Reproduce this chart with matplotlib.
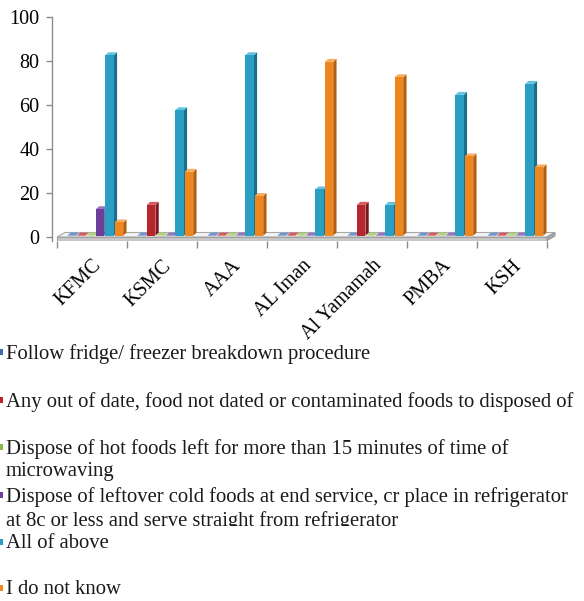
import numpy as np
import matplotlib
matplotlib.use("Agg")
import matplotlib.pyplot as plt
from matplotlib.patches import Polygon, Rectangle
from matplotlib.transforms import Bbox, TransformedBbox

# ---- data -------------------------------------------------------------
categories = ["KFMC", "KSMC", "AAA", "AL Iman", "Al Yamamah", "PMBA", "KSH"]

series_labels = [
    "Follow fridge/ freezer breakdown procedure",
    "Any out of date, food not dated or contaminated foods to disposed of",
    "Dispose of hot foods left for more than 15 minutes of time of\nmicrowaving",
    "Dispose of leftover cold foods at end service, cr place in refrigerator\n"
    "at 8c or less and serve straight from refrigerator",
    "All of above",
    "I do not know",
]

follow_breakdown = [0, 0, 0, 0, 0, 0, 0]
dispose_out_of_date = [0, 14, 0, 0, 14, 0, 0]
dispose_hot_foods = [0, 0, 0, 0, 0, 0, 0]
dispose_cold_leftovers = [12, 0, 0, 0, 0, 0, 0]
all_of_above = [82, 57, 82, 21, 14, 64, 69]
do_not_know = [6, 29, 18, 79, 72, 36, 31]

y_ticks = [0, 20, 40, 60, 80, 100]

values = [follow_breakdown, dispose_out_of_date, dispose_hot_foods,
          dispose_cold_leftovers, all_of_above, do_not_know]

# face colours: (front, side, top)
palette = [
    ("#3A6DB5", "#244A80", "#6E95CF"),
    ("#B8262D", "#7C171C", "#D55A5F"),
    ("#8CBC45", "#5E8328", "#B0D57A"),
    ("#6D3F9D", "#47266B", "#9872C2"),
    ("#2A9EC3", "#1B6F8A", "#62C3E0"),
    ("#F0861E", "#B35E0E", "#F8AC5E"),
]

SERIF = ["Liberation Serif", "DejaVu Serif"]

fig = plt.figure(figsize=(5.84, 6.01), dpi=100)
W, H = 584, 601

# plot area: y=0 sits at 237 px, y=100 at 17 px, category 0 starts at 57 px
px_per_unit = 2.2
px_per_cat = 70.0
ax_left, ax_right, ax_top, ax_bottom = 52, 562, 17, 241
ax = fig.add_axes([ax_left / W, 1 - ax_bottom / H,
                   (ax_right - ax_left) / W, (ax_bottom - ax_top) / H])
ax.set_xlim(-(57 - ax_left) / px_per_cat, (ax_right - 57) / px_per_cat)
ax.set_ylim(-(ax_bottom - 237) / px_per_unit, 100)

# pseudo-3D depth offsets (data units)
bar_dx, bar_dy = 3.3 / px_per_cat, 3.0 / px_per_unit
floor_dx, floor_dy = 8.0 / px_per_cat, 4.5 / px_per_unit
floor_thick = 1.6

n_cat = len(categories)

# floor slab
ax.add_patch(Polygon([(0, -floor_thick), (n_cat, -floor_thick), (n_cat, 0), (0, 0)],
                     closed=True, facecolor="#C8C8C8", edgecolor="#9A9A9A", lw=0.8, zorder=1))
ax.add_patch(Polygon([(0, 0), (n_cat, 0), (n_cat + floor_dx, floor_dy), (floor_dx, floor_dy)],
                     closed=True, facecolor="#F4F4F4", edgecolor="#A8A8A8", lw=0.8, zorder=1))
ax.add_patch(Polygon([(n_cat, -floor_thick), (n_cat + floor_dx, -floor_thick + floor_dy),
                      (n_cat + floor_dx, floor_dy), (n_cat, 0)],
                     closed=True, facecolor="#A8A8A8", edgecolor="#9A9A9A", lw=0.8, zorder=1))

# bars
bar_w = 8.6 / px_per_cat
first_off, step = 0.127, 0.135
base_dx, base_dy = 1.5 / px_per_cat, 0.6
z = 2
for c in range(n_cat):
    for k, vals in enumerate(values):
        v = vals[c]
        front, side, top = palette[k]
        x0 = c + first_off + step * k + base_dx
        x1 = x0 + bar_w
        y0 = base_dy
        y1 = base_dy + v
        # side face
        ax.add_patch(Polygon([(x1, y0), (x1 + bar_dx, y0 + bar_dy),
                              (x1 + bar_dx, y1 + bar_dy), (x1, y1)],
                             closed=True, facecolor=side, edgecolor="none", zorder=z))
        # top face
        ax.add_patch(Polygon([(x0, y1), (x1, y1), (x1 + bar_dx, y1 + bar_dy),
                              (x0 + bar_dx, y1 + bar_dy)],
                             closed=True, facecolor=top, edgecolor="none", zorder=z))
        # front face
        if v > 0:
            ax.add_patch(Rectangle((x0, y0), bar_w, v, facecolor=front,
                                   edgecolor="none", zorder=z))
        z += 1

# axes styling
for s in ["top", "right", "bottom"]:
    ax.spines[s].set_visible(False)
ax.spines["left"].set_color("#8C8C8C")
ax.spines["left"].set_linewidth(1.0)

ax.set_yticks(y_ticks)
ax.set_yticklabels([str(t) for t in y_ticks], fontfamily=SERIF, fontsize=14.5)
ax.tick_params(axis="y", direction="out", length=4, width=1, color="#8C8C8C", pad=5)

ax.set_xticks(np.arange(n_cat + 1))
ax.set_xticklabels([])
ax.tick_params(axis="x", which="major", direction="out", length=5, width=1, color="#8C8C8C")
ax.set_xticks(np.arange(n_cat) + 0.5, minor=True)
ax.set_xticklabels(categories, minor=True, rotation=45, ha="right",
                   rotation_mode="anchor", fontfamily=SERIF, fontsize=14.5)
ax.tick_params(axis="x", which="minor", length=0, pad=11)
ax.patch.set_alpha(0)

# legend below the chart
legend_rows = [352, 400, 447, 495, 542, 588]
font_px = 21
for k, (lab, row) in enumerate(zip(series_labels, legend_rows)):
    t = fig.text(6 / W, 1 - (row - 0.5 * font_px * 0.72) / H, lab, ha="left", va="top",
                 fontfamily=SERIF, fontsize=14.9, color="#1A1A1A", linespacing=1.22)
    if k == 3:
        # the second line of this entry is cut off by the next entry's row
        clip = TransformedBbox(Bbox([[0, 1 - 526 / H], [1, 1]]), fig.transFigure)
        t.set_clip_box(clip)
        t.set_clip_on(True)
    fig.patches.append(Rectangle((0, 1 - (row + 3) / H), 3 / W, 6 / H,
                                 transform=fig.transFigure, facecolor=palette[k][0],
                                 edgecolor="none", figure=fig))

fig.savefig("out.png", dpi=100, facecolor="white")
